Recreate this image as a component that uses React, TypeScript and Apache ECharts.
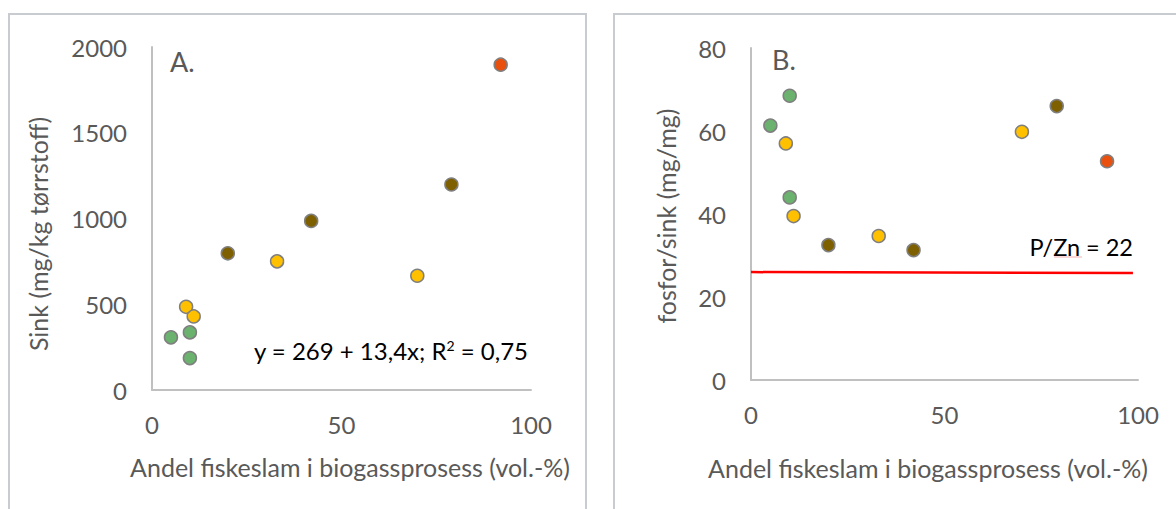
import React, { useEffect, useRef } from "react";
import * as echarts from "echarts";

// ---- data ----
const greenX = [5, 10, 10];
const greenZinc = [307, 336, 186];
const greenRatio = [61.3, 68.5, 44];

const yellowX = [9, 11, 33, 70];
const yellowZinc = [485, 429, 750, 666];
const yellowRatio = [57, 39.5, 34.7, 59.8];

const brownX = [20, 42, 79];
const brownZinc = [797, 986, 1198];
const brownRatio = [32.5, 31.3, 66];

const redX = [92];
const redZinc = [1897];
const redRatio = [52.7];

const refLineX = [0, 98.7];
const refLineY = [26, 25.8];

const xTicks = [0, 50, 100];
const zincTicks = [0, 500, 1000, 1500, 2000];
const ratioTicks = [0, 20, 40, 60, 80];

const xTitle = "Andel fiskeslam i biogassprosess (vol.-%)";
const yTitleA = "Sink (mg/kg tørrstoff)";
const yTitleB = "fosfor/sink (mg/mg)";

const FONT = "Lato, 'Open Sans', sans-serif";
const GREY_TEXT = "#595959";

const zip = (xs: number[], ys: number[]) => xs.map((x, i) => [x, ys[i]]);

export default function App() {
  const ref = useRef<HTMLDivElement>(null);
  useEffect(() => {
    if (!ref.current) return;
    const chart = echarts.init(ref.current, null, { renderer: "svg" });

    const axisCommon = (min: number, max: number, interval: number, margin: number) => ({
      type: "value" as const,
      min,
      max,
      interval,
      axisLine: { show: true, lineStyle: { color: "#c0c0c0", width: 2 } },
      axisTick: { show: false },
      splitLine: { show: false },
      axisLabel: {
        color: GREY_TEXT,
        fontSize: 24,
        fontFamily: FONT,
        margin,
        formatter: (v: number) => String(v),
      },
    });

    const scatter = (name: string, xs: number[], ys: number[], color: string, idx: number) => ({
      name,
      type: "scatter" as const,
      xAxisIndex: idx,
      yAxisIndex: idx,
      data: zip(xs, ys),
      symbolSize: 13,
      itemStyle: { color, borderColor: "#7f7f7f", borderWidth: 1.5, opacity: 1 },
      z: 3,
    });

    const groups = [
      { n: "green", x: greenX, a: greenZinc, b: greenRatio, c: "#6bb26e" },
      { n: "yellow", x: yellowX, a: yellowZinc, b: yellowRatio, c: "#ffc000" },
      { n: "brown", x: brownX, a: brownZinc, b: brownRatio, c: "#7f6000" },
      { n: "red", x: redX, a: redZinc, b: redRatio, c: "#e9500e" },
    ];

    const series: any[] = [];
    groups.forEach((g) => {
      series.push(scatter(g.n + "A", g.x, g.a, g.c, 0));
      series.push(scatter(g.n + "B", g.x, g.b, g.c, 1));
    });
    series.push({
      type: "line",
      xAxisIndex: 1,
      yAxisIndex: 1,
      data: zip(refLineX, refLineY),
      symbol: "none",
      lineStyle: { color: "#ff0000", width: 2.5 },
      z: 2,
    });

    chart.setOption({
      animation: false,
      backgroundColor: "#ffffff",
      grid: [
        { left: 152, top: 47, width: 379, height: 343 },
        { left: 751, top: 48, width: 387, height: 332 },
      ],
      xAxis: [
        { ...axisCommon(xTicks[0], xTicks[xTicks.length - 1], xTicks[1] - xTicks[0], 22), gridIndex: 0 },
        { ...axisCommon(xTicks[0], xTicks[xTicks.length - 1], xTicks[1] - xTicks[0], 22), gridIndex: 1 },
      ],
      yAxis: [
        { ...axisCommon(zincTicks[0], zincTicks[zincTicks.length - 1], zincTicks[1] - zincTicks[0], 25), gridIndex: 0 },
        { ...axisCommon(ratioTicks[0], ratioTicks[ratioTicks.length - 1], ratioTicks[1] - ratioTicks[0], 25), gridIndex: 1 },
      ],
      series,
      graphic: [
        { type: "rect", shape: { x: 9, y: 14, width: 577, height: 520 }, style: { fill: "none", stroke: "#c8cbcf", lineWidth: 2 }, silent: true },
        { type: "rect", shape: { x: 614, y: 14, width: 600, height: 520 }, style: { fill: "none", stroke: "#c8cbcf", lineWidth: 2 }, silent: true },
        { type: "text", x: 170, y: 61, style: { text: "A.", fontSize: 27, fontFamily: FONT, fill: GREY_TEXT, verticalAlign: "middle" } },
        { type: "text", x: 772, y: 59, style: { text: "B.", fontSize: 27, fontFamily: FONT, fill: GREY_TEXT, verticalAlign: "middle" } },
        {
          type: "text",
          x: 528,
          y: 350,
          style: {
            text: "y = 269 + 13,4x; R{sup|2} = 0,75",
            fontSize: 24,
            fontFamily: FONT,
            fill: "#000000",
            align: "right",
            verticalAlign: "middle",
            rich: { sup: { fontSize: 14, fontFamily: FONT, fill: "#000000", verticalAlign: "top", padding: [0, 0, 9, 0] } },
          },
        },
        { type: "text", x: 1133, y: 247, style: { text: "P/Zn = 22", fontSize: 23.5, fontFamily: FONT, fill: "#000000", align: "right", verticalAlign: "middle" } },
        { type: "line", shape: { x1: 1054, y1: 257, x2: 1082, y2: 257 }, style: { stroke: "#f4b0b0", lineWidth: 1 } },
        { type: "text", x: 38, y: 234, rotation: Math.PI / 2, style: { text: yTitleA, fontSize: 25, fontFamily: FONT, fill: GREY_TEXT, align: "center", verticalAlign: "middle" } },
        { type: "text", x: 666, y: 216, rotation: Math.PI / 2, style: { text: yTitleB, fontSize: 25, fontFamily: FONT, fill: GREY_TEXT, align: "center", verticalAlign: "middle" } },
        { type: "text", x: 350, y: 467, style: { text: xTitle, fontSize: 25, fontFamily: FONT, fill: GREY_TEXT, align: "center", verticalAlign: "middle" } },
        { type: "text", x: 928, y: 468, style: { text: xTitle, fontSize: 25, fontFamily: FONT, fill: GREY_TEXT, align: "center", verticalAlign: "middle" } },
      ],
    });
    return () => chart.dispose();
  }, []);
  return <div ref={ref} style={{ position: "fixed", left: 0, top: 0, width: 1176, height: 509 }} />;
}
